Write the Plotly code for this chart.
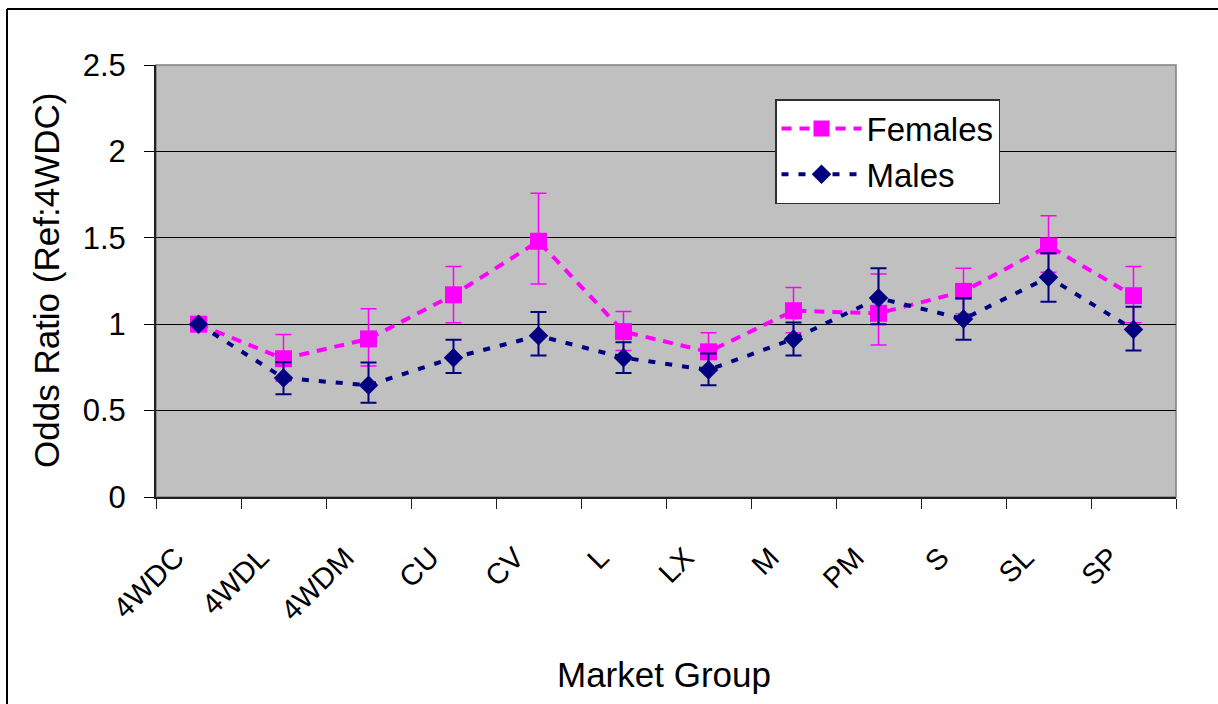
import plotly.graph_objects as go

categories = ["4WDC", "4WDL", "4WDM", "CU", "CV", "L", "LX", "M", "PM", "S", "SL", "SP"]

females = [1.00, 0.80, 0.915, 1.17, 1.48, 0.957, 0.84, 1.078, 1.063, 1.19, 1.453, 1.165]
females_upper = [1.00, 0.94, 1.09, 1.334, 1.758, 1.073, 0.95, 1.213, 1.29, 1.324, 1.628, 1.334]
females_lower = [1.00, 0.67, 0.758, 1.009, 1.232, 0.848, 0.73, 0.95, 0.88, 1.06, 1.30, 1.008]

males = [1.00, 0.689, 0.646, 0.806, 0.933, 0.806, 0.735, 0.915, 1.151, 1.03, 1.272, 0.969]
males_upper = [1.00, 0.78, 0.779, 0.91, 1.071, 0.896, 0.83, 1.01, 1.324, 1.15, 1.41, 1.101]
males_lower = [1.00, 0.594, 0.545, 0.718, 0.819, 0.718, 0.646, 0.819, 1.0, 0.91, 1.13, 0.848]

f_plus = [u - v for u, v in zip(females_upper, females)]
f_minus = [v - l for v, l in zip(females, females_lower)]
m_plus = [u - v for u, v in zip(males_upper, males)]
m_minus = [v - l for v, l in zip(males, males_lower)]

FONT = "Liberation Sans, Arial, sans-serif"

# plot area in pixels
PL, PR, PT, PB = 156, 1176, 65, 497
PW, PH = PR - PL, PB - PT


def px_x(x):
    return (x - PL) / PW


def px_y(y):
    return (PB - y) / PH


fig = go.Figure()
fig.add_trace(go.Scatter(
    x=categories, y=females, name="Females", mode="lines+markers",
    legendgroup="f",
    line=dict(color="#FF00FF", width=4, dash="10px,8px"),
    marker=dict(symbol="square", size=17, color="#FF00FF"),
    error_y=dict(type="data", symmetric=False, array=f_plus, arrayminus=f_minus,
                 color="#FF00FF", thickness=1.5, width=8),
))
fig.add_trace(go.Scatter(
    x=categories, y=males, name="Males", mode="lines+markers",
    legendgroup="m",
    line=dict(color="#000080", width=4, dash="7px,10px"),
    marker=dict(symbol="diamond", size=15, color="#000080"),
    error_y=dict(type="data", symmetric=False, array=m_plus, arrayminus=m_minus,
                 color="#000080", thickness=2, width=8),
))

fig.update_layout(
    width=1218, height=704,
    margin=dict(l=PL, r=1218 - PR, t=PT, b=704 - PB),
    paper_bgcolor="white",
    plot_bgcolor="#C0C0C0",
    font=dict(family=FONT, size=29, color="black"),
    showlegend=True,
    legend=dict(
        x=px_x(775), y=px_y(99), xanchor="left", yanchor="top",
        bgcolor="white", bordercolor="#303030", borderwidth=1.5,
        font=dict(family=FONT, size=33, color="black"),
        itemwidth=80, tracegroupgap=6, traceorder="normal",
    ),
    xaxis=dict(
        type="category", showgrid=False, zeroline=False,
        showline=True, linecolor="#202020", linewidth=2,
        ticks="outside", ticklen=10, tickcolor="#202020", tickson="boundaries",
        tickangle=-45, tickfont=dict(family=FONT, size=29),
        ticklabelstandoff=30, ticklabelshift=-23,
        range=[-0.5, 11.5],
    ),
    yaxis=dict(
        range=[0, 2.5], tickvals=[0, 0.5, 1, 1.5, 2, 2.5],
        ticktext=["0", "0.5", "1", "1.5", "2", "2.5"],
        showgrid=True, gridcolor="black", gridwidth=1.2, zeroline=False,
        showline=True, linecolor="#202020", linewidth=2,
        ticks="outside", ticklen=10, tickcolor="black",
        ticklabelstandoff=12,
        tickfont=dict(family=FONT, size=31),
    ),
    shapes=[
        dict(type="rect", xref="paper", yref="paper", x0=0, x1=1, y0=0, y1=1,
             line=dict(color="#808080", width=1.5), fillcolor="rgba(0,0,0,0)", layer="below"),
        dict(type="line", xref="paper", yref="paper",
             x0=px_x(7), x1=px_x(7), y0=px_y(9), y1=px_y(720),
             line=dict(color="black", width=2)),
        dict(type="line", xref="paper", yref="paper",
             x0=px_x(7), x1=px_x(1240), y0=px_y(9), y1=px_y(9),
             line=dict(color="black", width=2)),
    ],
    annotations=[
        dict(text="Market Group", xref="paper", yref="paper",
             x=px_x(664), y=px_y(674), xanchor="center", yanchor="middle",
             showarrow=False, font=dict(family=FONT, size=35)),
        dict(text="Odds Ratio (Ref:4WDC)", xref="paper", yref="paper",
             x=px_x(46), y=px_y(281), xanchor="center", yanchor="middle",
             textangle=-90, showarrow=False, font=dict(family=FONT, size=35)),
    ],
)

fig.write_html("out.html")
